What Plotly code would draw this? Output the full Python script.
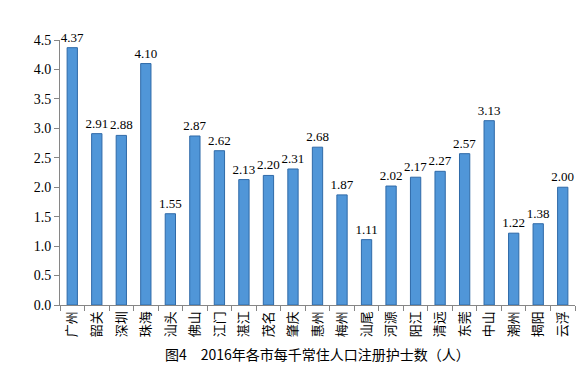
import plotly.graph_objects as go

cities = ["广州", "韶关", "深圳", "珠海", "汕头", "佛山", "江门", "湛江", "茂名", "肇庆", "惠州",
          "梅州", "汕尾", "河源", "阳江", "清远", "东莞", "中山", "潮州", "揭阳", "云浮"]
nurses = [4.37, 2.91, 2.88, 4.10, 1.55, 2.87, 2.62, 2.13, 2.20, 2.31, 2.68,
          1.87, 1.11, 2.02, 2.17, 2.27, 2.57, 3.13, 1.22, 1.38, 2.00]
y_ticks = [0.0, 0.5, 1.0, 1.5, 2.0, 2.5, 3.0, 3.5, 4.0, 4.5]
title = "图4　2016年各市每千常住人口注册护士数（人）"

serif = "Liberation Serif, Times New Roman, serif"
cjk = "Noto Sans CJK SC"

fig = go.Figure(go.Bar(
    x=cities, y=nurses,
    marker=dict(color="#5096d8", line=dict(color="#2f6aa8", width=1)),
    text=[f"{v:.2f}" for v in nurses], textposition="outside",
    textfont=dict(family=serif, size=13, color="#000"),
    constraintext="none",
    cliponaxis=False, width=0.42,
))

fig.update_layout(
    width=585, height=373,
    margin=dict(l=52, r=18, t=32, b=76),
    paper_bgcolor="white", plot_bgcolor="white",
    showlegend=False,
    annotations=[dict(text=title, x=0.5, y=-0.185, xref="paper", yref="paper",
                      yanchor="middle", showarrow=False,
                      font=dict(family=cjk, size=14, color="#000"))],
)

fig.update_xaxes(
    tickangle=-90, tickfont=dict(family=cjk, size=13, color="#000"),
    showline=True, linecolor="#868686", linewidth=1,
    ticks="outside", tickson="boundaries", ticklen=5, tickcolor="#868686",
    showgrid=False,
)
fig.update_yaxes(
    range=[0, 4.5], tickvals=y_ticks, ticktext=[f"{v:.1f}" for v in y_ticks],
    tickfont=dict(family=serif, size=14, color="#000"),
    showline=True, linecolor="#868686", linewidth=1,
    ticks="outside", ticklen=5, tickcolor="#868686",
    showgrid=False, zeroline=False,
)

fig.write_html("out.html")
